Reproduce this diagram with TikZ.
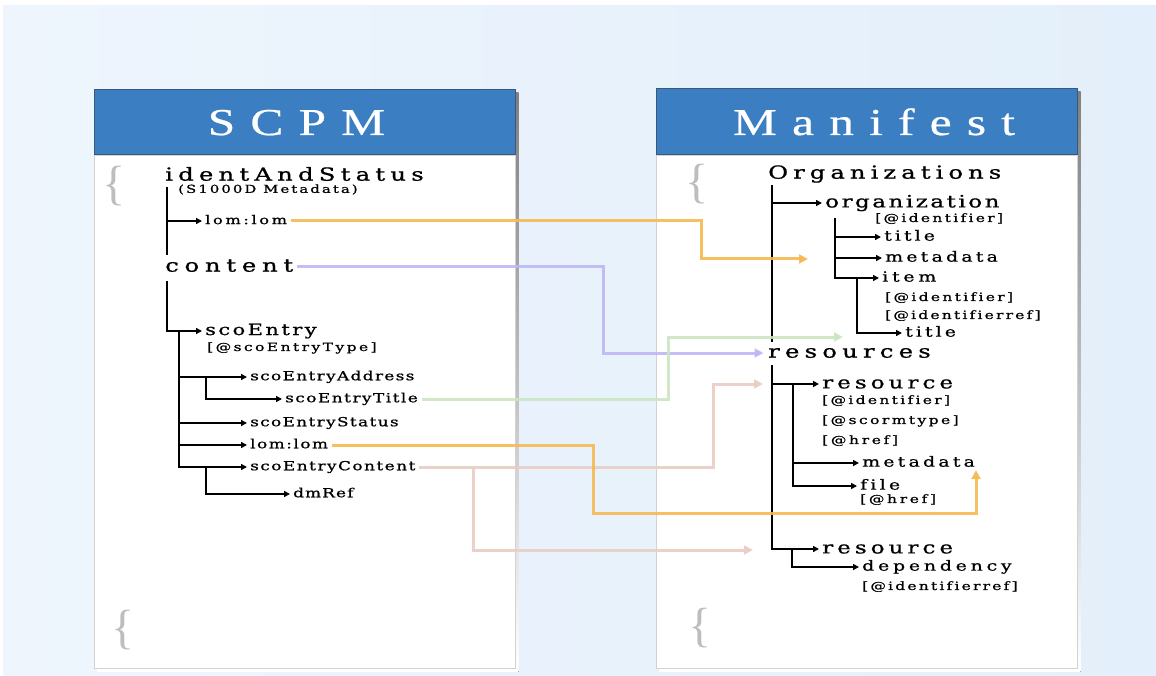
\documentclass[tikz,border=0pt]{standalone}
\usepackage{fontspec}
\setmainfont{Liberation Serif}
\newfontfamily\hdfont{Liberation Serif}[FakeStretch=1.3,FakeBold=0.6,LetterSpace=40]
\newfontfamily\trfont{DejaVu Serif}[FakeStretch=1.35,FakeBold=0.9,Ligatures=NoCommon]
\newfontfamily\brfont{Liberation Serif}
\usetikzlibrary{arrows.meta}

\definecolor{bgA}{HTML}{EEF5FD}
\definecolor{bgB}{HTML}{E3EFFA}
\definecolor{hdblue}{HTML}{3B7EC1}
\definecolor{hdedge}{HTML}{3A5878}
\definecolor{shade}{HTML}{555555}
\definecolor{cOrange}{HTML}{F6B952}
\definecolor{cViolet}{HTML}{BDB7F5}
\definecolor{cGreen}{HTML}{CBE6C2}
\definecolor{cRose}{HTML}{E9CEC4}
\definecolor{brace}{HTML}{BDBDBD}

\begin{document}
\begin{tikzpicture}[x=1pt,y=-1pt,
  tree/.style={line width=2.4pt, black},
  arr/.style={tree, -{Triangle[length=6pt,width=6pt]}, shorten >=1.5pt},
  link/.style={line width=3pt, opacity=0.9, -{Triangle[length=9pt,width=9pt]}, shorten <=2pt},
  lbl/.style={anchor=west, inner sep=1.5pt, text=black},
  % size, letter spacing
  fs/.style 2 args={lbl, font=\trfont\fontsize{#1}{#1}\selectfont\addfontfeature{LetterSpace=#2},
    text height=0.76*#1pt, text depth=0.24*#1pt},
  title/.style={anchor=base, text=white, font=\hdfont\fontsize{38}{38}\selectfont},
  curly/.style={text=brace, inner sep=0pt, font=\brfont\fontsize{48}{48}\selectfont},
  head/.style={fill=hdblue, draw=hdedge, line width=1pt},
  body/.style={fill=white, draw=gray!35, line width=0.5pt},
]
\useasboundingbox (0,0) rectangle (1156,676);

% backdrop
\fill[white] (0,0) rectangle (1156,676);
\shade[left color=bgA, right color=bgB] (3,6) rectangle (1156,676);

% panels with their drop shadows
\fill[shade] (97.5,93) rectangle (518.5,671.5);
\fill[body] (94,155) rectangle (515,668);
\filldraw[head] (94,90) rectangle (515,155);

\fill[shade] (659.5,92) rectangle (1080.5,671.5);
\fill[body] (656,155) rectangle (1077,668);
\filldraw[head] (656,89) rectangle (1077,155);

\node[title] (tScpm) at (296.5,135) {SCPM};
\node[title] (tMan) at (874,135) {Manifest};

% decorative braces
\node[curly] (brA) at (114,186) {\{};
\node[curly] (brB) at (123,630) {\{};
\node[curly] (brC) at (697,184) {\{};
\node[curly] (brD) at (700,628) {\{};

% ---------- SCPM tree ----------
\node[fs={18}{29}] (ias) at (163.5,176) {identAndStatus};
\node[fs={11}{19}] (s1000) at (176.5,190) {(S1000D Metadata)};
\node[fs={12}{22}] (lomA) at (203.5,221) {lom:lom};
\node[fs={18}{32}] (content) at (163.5,267) {content};
\node[fs={15.5}{16}] (sco) at (203.5,331) {scoEntry};
\node[fs={11.5}{21}] (scoType) at (205.5,348) {[@scoEntryType]};
\node[fs={12.5}{11}] (addr) at (248.5,377) {scoEntryAddress};
\node[fs={12.5}{12}] (stitle) at (283.5,399) {scoEntryTitle};
\node[fs={12.5}{11}] (status) at (248.5,423) {scoEntryStatus};
\node[fs={12.5}{12}] (lomB) at (248.5,445) {lom:lom};
\node[fs={12.5}{12}] (scont) at (248.5,467) {scoEntryContent};
\node[fs={12.5}{9}] (dmref) at (291.5,494) {dmRef};

\coordinate (L1top) at (167,187);
\coordinate (L1bot) at (167,255);
\draw[tree] (L1top) -- (L1bot);
\draw[arr] (L1top |- lomA.west) -- (lomA.west);

\coordinate (L2top) at (167,281);
\draw[arr] (L2top) |- (sco.west);

\coordinate (L3top) at (179,331);
\draw[arr] (L3top) |- (scont.west);
\foreach \n in {addr,status,lomB}
  \draw[arr] (L3top |- \n.west) -- (\n.west);

\coordinate (L4) at (206,377);
\draw[arr] (L4) |- (stitle.west);
\coordinate (L5) at (206,467);
\draw[arr] (L5) |- (dmref.west);

% ---------- Manifest tree ----------
\node[fs={18}{28}] (orgs) at (766.5,174) {Organizations};
\node[fs={17}{15}] (org) at (823.5,203) {organization};
\node[fs={11.5}{20}] (id1) at (873.5,219) {[@identifier]};
\node[fs={14}{22}] (otitle) at (882.5,237) {title};
\node[fs={14}{23}] (ometa) at (883.5,258) {metadata};
\node[fs={14}{27}] (item) at (880.5,278) {item};
\node[fs={11.5}{20}] (id2) at (883.5,298) {[@identifier]};
\node[fs={11.5}{19}] (idref2) at (883.5,316) {[@identifierref]};
\node[fs={14}{22}] (ititle) at (903.5,333) {title};
\node[fs={18}{29}] (res) at (766.5,353) {resources};
\node[fs={17}{24}] (res1) at (820.5,384) {resource};
\node[fs={11.5}{20}] (id3) at (820.5,401) {[@identifier]};
\node[fs={11.5}{21}] (scorm) at (820.5,421) {[@scormtype]};
\node[fs={11.5}{23}] (href1) at (820.5,441) {[@href]};
\node[fs={14}{23}] (rmeta) at (860.5,463) {metadata};
\node[fs={14}{23}] (file) at (858.5,486) {file};
\node[fs={11.5}{23}] (href2) at (858.5,500) {[@href]};
\node[fs={17}{24}] (res2) at (820.5,549) {resource};
\node[fs={14}{27}] (dep) at (860.5,567) {dependency};
\node[fs={11.5}{19}] (idref3) at (860.5,587) {[@identifierref]};

\coordinate (R1top) at (772,185);
\coordinate (R1bot) at (772,342);
\draw[tree] (R1top) -- (R1bot);
\draw[arr] (R1top |- org.west) -- (org.west);

\coordinate (R2top) at (835,218);
\draw[arr] (R2top) |- (item.west);
\foreach \n in {otitle,ometa}
  \draw[arr] (R2top |- \n.west) -- (\n.west);
\coordinate (R3) at (857,278);
\draw[arr] (R3) |- (ititle.west);

\coordinate (R4top) at (772,365);
\draw[arr] (R4top) |- (res2.west);
\draw[arr] (R4top |- res1.west) -- (res1.west);

\coordinate (R5top) at (793,384);
\draw[arr] (R5top) |- (file.west);
\draw[arr] (R5top |- rmeta.west) -- (rmeta.west);

\coordinate (R6) at (792,549);
\draw[arr] (R6) |- (dep.west);

% ---------- cross links ----------
\coordinate (oEnd1) at (808,259);
\coordinate (gEnd) at (843,337);
\coordinate (oEnd2) at (976,470);
\coordinate (rEnd1) at (763,384);
\coordinate (rJ) at (473,467);
\coordinate (rEnd2) at (753,550);

\draw[link,cOrange] (lomA.east) -| (701,259) -- (oEnd1);
\draw[link,cViolet,shorten >=3pt] (content.east) -| (603,353) -- (res.west);
\draw[link,cGreen] (stitle.east) -| (668,337) -- (gEnd);
\draw[link,cRose] (scont.east) -| (713,384) -- (rEnd1);
\draw[link,cRose,shorten <=0pt] (rJ) |- (rEnd2);
\draw[link,cOrange] (lomB.east) -| (593,513) -| (oEnd2);

\end{tikzpicture}
\end{document}
